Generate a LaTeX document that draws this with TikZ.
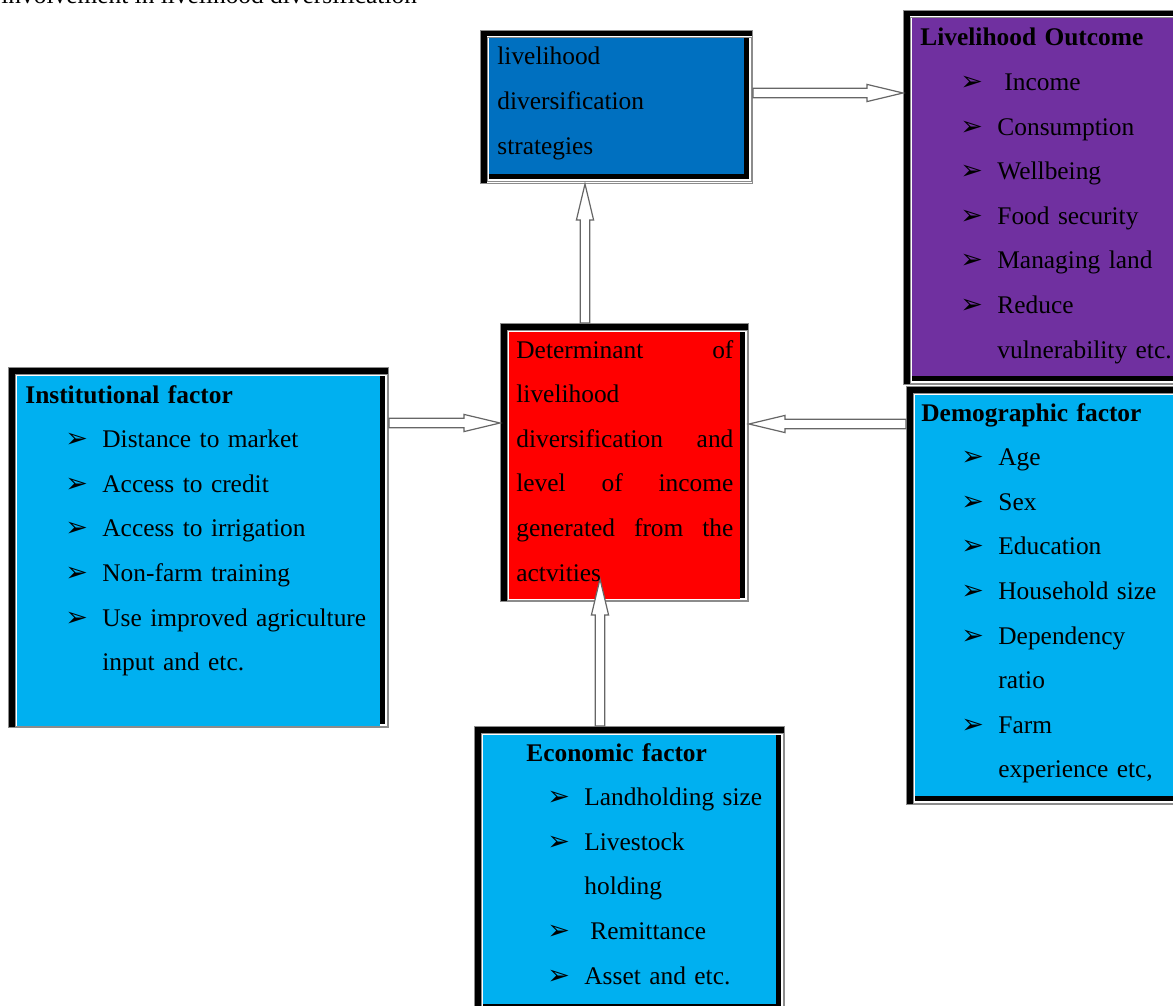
\documentclass[tikz,border=0pt]{standalone}
\usepackage{fontspec}
\setmainfont{Liberation Serif}
\newfontfamily\bulfont{DejaVu Sans}
\usetikzlibrary{calc}

\definecolor{stratblue}{HTML}{0070C0}
\definecolor{outcpurple}{HTML}{7030A0}
\definecolor{detred}{HTML}{FF0000}
\definecolor{factorcyan}{HTML}{00B0F0}

% bullet items
\newcommand{\bul}{{\bulfont\fontsize{13.5}{13.5}\selectfont ➢}}
\newcommand{\bitem}[2][20pt]{\hspace*{#1}\makebox[18.5pt][l]{\bul}#2}
\newcommand{\bcont}[2][20pt]{\hspace*{\dimexpr#1+18.5pt\relax}#2}

% hollow block arrow from #1 to #2
\newcommand{\hollowarrow}[2]{%
  \draw[hollow] let \p1=#1, \p2=#2, \n1={atan2(\y2-\y1,\x2-\x1)} in
    ($(\p1)+(\n1+90:2.4pt)$) -- ($(\p2)+(\n1+180:18pt)+(\n1+90:2.4pt)$)
    -- ($(\p2)+(\n1+180:18pt)+(\n1+90:4.3pt)$) -- (\p2)
    -- ($(\p2)+(\n1+180:18pt)+(\n1-90:4.3pt)$) -- ($(\p2)+(\n1+180:18pt)+(\n1-90:2.4pt)$)
    -- ($(\p1)+(\n1-90:2.4pt)$) -- cycle;}

\begin{document}
\begin{tikzpicture}[x=0.5pt, y=-0.5pt,
  bottom gap/.store in=\bottomgap, bottom gap=9,
  thickthin/.style={rectangle, inner sep=0pt, anchor=north west, fill=black, draw=black!45, line width=0.5pt,
    path picture={
      \fill[white] ($(path picture bounding box.north west)+(6,6)$) rectangle (path picture bounding box.south east);
      \draw[black!45, line width=0.5pt] ($(path picture bounding box.north west)+(7,7)$) rectangle ($(path picture bounding box.south east)+(-1.5,-1.5)$);
      \fill[black] ($(path picture bounding box.north west)+(8,8)$) rectangle ($(path picture bounding box.south east)+(-4,-4)$);
      \fill[#1] ($(path picture bounding box.north west)+(8,8)$) rectangle ($(path picture bounding box.south east)+(-9,-\bottomgap)$);
    }},
  hollow/.style={fill=white, draw=black!60, line width=0.6pt, line join=miter},
  boxtext/.style={anchor=base west, inner sep=0pt, align=left, text width=#1,
    font=\fontsize{12.7pt}{22.3pt}\selectfont}]

  \useasboundingbox (0,0) rectangle (1173,1006);
  \clip (0,0) rectangle (1173,1006);

  \node[anchor=base west, inner sep=0pt, font=\fontsize{12.7pt}{22.3pt}\selectfont] (caption) at (1,4)
    {involvement in livelihood diversification};

  % boxes
  \node[thickthin=stratblue, minimum width=136pt, minimum height=76.5pt] (strat) at (480,30) {};
  \node[thickthin=outcpurple, minimum width=143.5pt, minimum height=187pt] (outc) at (903,10) {};
  \node[thickthin=detred, bottom gap=2.5, minimum width=124pt, minimum height=139pt] (det) at (500,323) {};
  \node[thickthin=factorcyan, bottom gap=2, minimum width=190pt, minimum height=180pt] (inst) at (8,367) {};
  \node[thickthin=factorcyan, minimum width=142pt, minimum height=209pt] (demo) at (906,386) {};
  \node[thickthin=factorcyan, minimum width=155pt, minimum height=143pt] (econ) at (474,726) {};

  % arrows
  \hollowarrow{($(strat.north east)+(0,63)$)}{($(outc.north west)+(0,83)$)}
  \hollowarrow{($(det.north west)+(85,0)$)}{($(strat.south west)+(105,0)$)}
  \hollowarrow{($(inst.north east)+(0,56)$)}{($(det.north west)+(0,100)$)}
  \hollowarrow{($(demo.north west)+(0,38)$)}{($(det.north east)+(0,101)$)}
  \hollowarrow{($(econ.north west)+(126,0)$)}{($(det.south west)+(100,-23)$)}

  % texts
  \node[boxtext=120pt] (stratT) at ($(strat.north west)+(17,35)$)
    {livelihood\\ diversification\\ strategies};
  \node[boxtext=135pt] (outcT) at ($(outc.north west)+(17,36)$)
    {\textbf{Livelihood Outcome}\\
     \bitem{\hspace{3.5pt}Income}\\
     \bitem{Consumption}\\
     \bitem{Wellbeing}\\
     \bitem{Food security}\\
     \bitem{Managing land}\\
     \bitem{Reduce}\\
     \bcont{vulnerability etc.}};
  \node[boxtext=108.5pt] (detT) at ($(det.north west)+(16,35)$)
    {Determinant \hfill of\\
     livelihood\\
     diversification \hfill and\\
     level \hfill of \hfill income\\
     generated \hfill from \hfill the\\
     actvities};
  \node[boxtext=172.5pt] (instT) at ($(inst.north west)+(17,36)$)
    {\textbf{Institutional factor}\\
     \bitem{Distance to market}\\
     \bitem{Access to credit}\\
     \bitem{Access to irrigation}\\
     \bitem{Non-farm training}\\
     \bitem{\makebox[134pt][s]{Use improved agriculture}}\\
     \bcont{input and etc.}};
  \node[boxtext=130pt] (demoT) at ($(demo.north west)+(15,35)$)
    {\textbf{Demographic factor}\\
     \bitem{Age}\\
     \bitem{Sex}\\
     \bitem{Education}\\
     \bitem{Household size}\\
     \bitem{Dependency}\\
     \bcont{ratio}\\
     \bitem{Farm}\\
     \bcont{experience etc,}};
  \node[boxtext=130pt] (econT) at ($(econ.north west)+(52,35)$)
    {\textbf{Economic factor}\\
     \bitem[10.5pt]{Landholding size}\\
     \bitem[10.5pt]{Livestock}\\
     \bcont[10.5pt]{holding}\\
     \bitem[10.5pt]{\hspace{3pt}Remittance}\\
     \bitem[10.5pt]{Asset and etc.}};
\end{tikzpicture}
\end{document}
